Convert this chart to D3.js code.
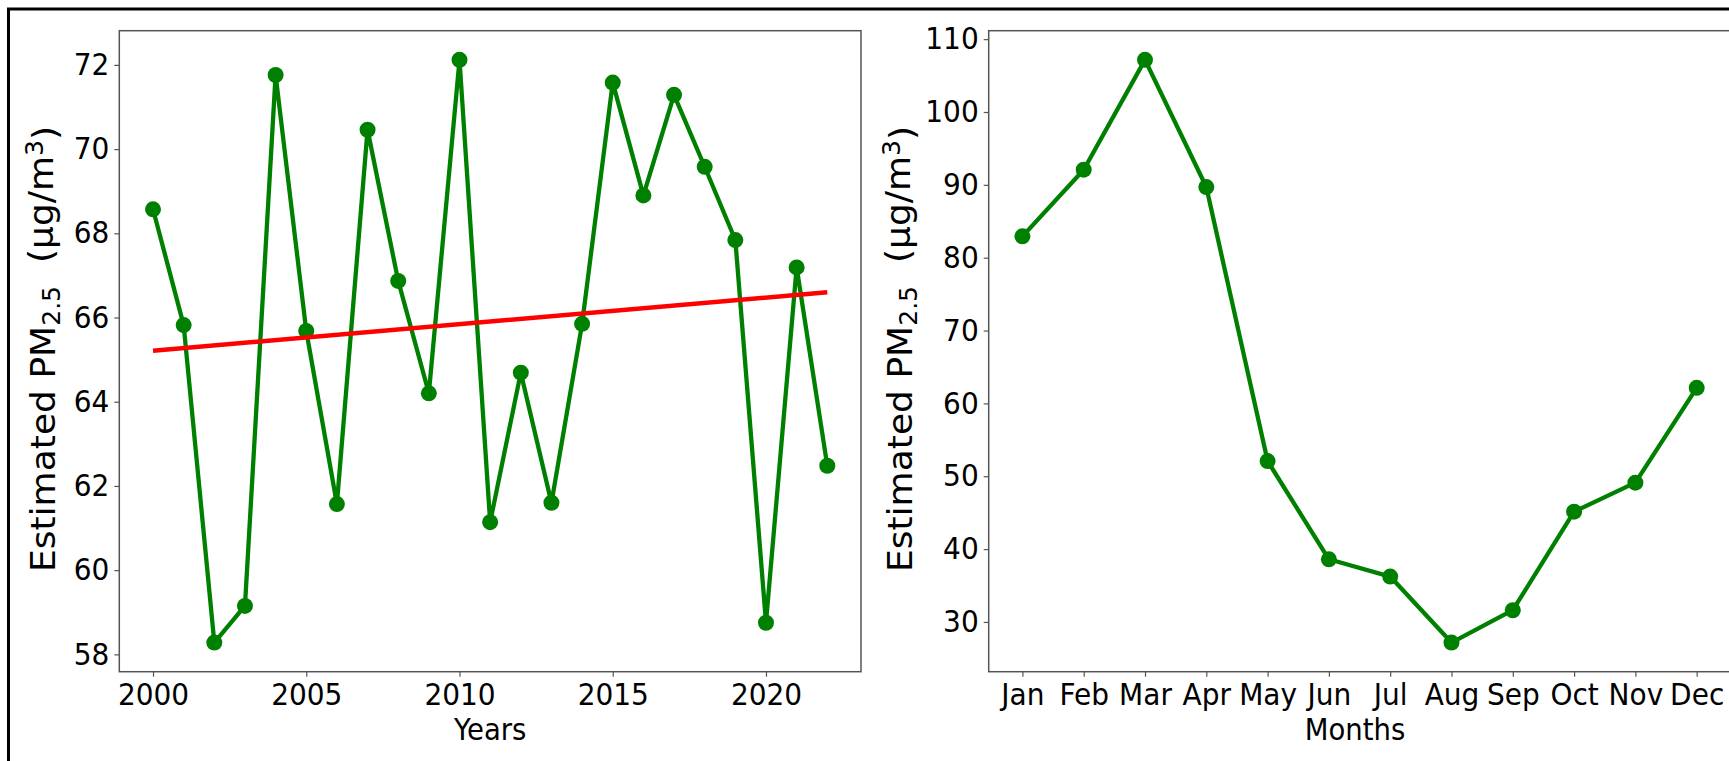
<!DOCTYPE html>
<html>
<head>
<meta charset="utf-8">
<script src="https://cdn.jsdelivr.net/npm/d3@7"></script>
<style>
  html, body { margin: 0; padding: 0; background: #fff; }
  svg { display: block; }
  text { font-family: "DejaVu Sans", sans-serif; fill: #000; }
</style>
</head>
<body>
<svg id="chart" width="1729" height="761"></svg>
<script>
// ---- data ----
const years = [2000, 2001, 2002, 2003, 2004, 2005, 2006, 2007, 2008, 2009, 2010, 2011,
               2012, 2013, 2014, 2015, 2016, 2017, 2018, 2019, 2020, 2021, 2022];
const annualPM = [68.57, 65.82, 58.28, 59.15, 71.76, 65.68, 61.57, 70.46, 66.87, 64.20, 72.12, 61.14,
                  64.69, 61.60, 65.85, 71.58, 68.90, 71.29, 69.58, 67.84, 58.75, 67.19, 62.48];
const trendYears = [2000, 2022];
const trendPM = [65.21, 66.60];
const months = ["Jan", "Feb", "Mar", "Apr", "May", "Jun", "Jul", "Aug", "Sep", "Oct", "Nov", "Dec"];
const monthlyPM = [82.93, 92.08, 107.16, 89.70, 52.08, 38.60, 36.23, 27.17, 31.61, 45.14, 49.12, 62.14];
const yearTicks = [2000, 2005, 2010, 2015, 2020];
const annualTicks = [58, 60, 62, 64, 66, 68, 70, 72];
const monthlyTicks = [30, 40, 50, 60, 70, 80, 90, 100, 110];

const svg = d3.select("#chart");
const GREEN = "#008000";
const FRAME = "#555";
const TICKFONT = 28;
const VSTRETCH = 1.08;

function padDomain(ext) {
  const m = (ext[1] - ext[0]) * 0.05;
  return [ext[0] - m, ext[1] + m];
}

// outer border
svg.append("rect").attr("x", 8.5).attr("y", 9).attr("width", 1800).attr("height", 800)
  .attr("fill", "none").attr("stroke", "#000").attr("stroke-width", 3);

function styleAxis(g) {
  g.select(".domain").remove();
  g.selectAll(".tick line").attr("stroke", FRAME).attr("stroke-width", 1.2);
  g.selectAll(".tick text").style("font-size", TICKFONT + "px").style("font-family", "DejaVu Sans")
    .attr("transform", `scale(1,${VSTRETCH})`);
}

function yLabel(x, y) {
  const t = svg.append("text")
    .attr("transform", `translate(${x},${y}) rotate(-90) scale(1.045,1)`)
    .attr("text-anchor", "middle")
    .style("font-size", "34.5px")
    .style("white-space", "pre");
  t.append("tspan").text("Estimated PM");
  t.append("tspan").attr("dy", "0.22em").style("font-size", "24px").text("2.5");
  t.append("tspan").attr("dy", "-0.22em").text("  (μg/m");
  t.append("tspan").attr("dy", "-0.42em").style("font-size", "24px").text("3");
  t.append("tspan").attr("dy", "0.42em").text(")");
}

function xLabel(x, baseline, label) {
  svg.append("text")
    .attr("transform", `translate(${x},${baseline}) scale(1,${VSTRETCH})`)
    .attr("text-anchor", "middle").style("font-size", "27.5px").text(label);
}

// ---------- left panel ----------
const L = { left: 119.3, right: 861, top: 30.7, bottom: 671.7 };
const xL = d3.scaleLinear().domain(padDomain(d3.extent(years))).range([L.left, L.right]);
const yL = d3.scaleLinear().domain(padDomain(d3.extent(annualPM))).range([L.bottom, L.top]);

svg.append("g").attr("transform", `translate(0,${L.bottom})`)
  .call(d3.axisBottom(xL).tickValues(yearTicks).tickFormat(d3.format("d")).tickSize(5).tickPadding(6))
  .call(styleAxis);
svg.append("g").attr("transform", `translate(${L.left},0)`)
  .call(d3.axisLeft(yL).tickValues(annualTicks).tickFormat(d3.format("d")).tickSize(5).tickPadding(5))
  .call(styleAxis);

const lineL = d3.line().x((d, i) => xL(years[i])).y(d => yL(d));
svg.append("path").datum(annualPM).attr("d", lineL)
  .attr("fill", "none").attr("stroke", GREEN).attr("stroke-width", 4.3).attr("stroke-linejoin", "round");
svg.append("g").selectAll("circle").data(annualPM).join("circle")
  .attr("cx", (d, i) => xL(years[i])).attr("cy", d => yL(d)).attr("r", 8).attr("fill", GREEN);

const trendLine = d3.line().x((d, i) => xL(trendYears[i])).y(d => yL(d));
svg.append("path").datum(trendPM).attr("d", trendLine)
  .attr("fill", "none").attr("stroke", "#ff0000").attr("stroke-width", 4.5);

svg.append("rect").attr("x", L.left).attr("y", L.top)
  .attr("width", L.right - L.left).attr("height", L.bottom - L.top)
  .attr("fill", "none").attr("stroke", FRAME).attr("stroke-width", 1.5);

xLabel((L.left + L.right) / 2, 740, "Years");
yLabel(55, 349);

// ---------- right panel ----------
const R = { left: 988.7, right: 1730.4, top: 30.7, bottom: 671.7 };
const xR = d3.scalePoint().domain(months).range([R.left, R.right]).padding(0.55);
const yR = d3.scaleLinear().domain(padDomain(d3.extent(monthlyPM))).range([R.bottom, R.top]);

svg.append("g").attr("transform", `translate(0,${R.bottom})`)
  .call(d3.axisBottom(xR).tickSize(5).tickPadding(6))
  .call(styleAxis);
svg.append("g").attr("transform", `translate(${R.left},0)`)
  .call(d3.axisLeft(yR).tickValues(monthlyTicks).tickFormat(d3.format("d")).tickSize(5).tickPadding(5))
  .call(styleAxis);

const lineR = d3.line().x((d, i) => xR(months[i])).y(d => yR(d));
svg.append("path").datum(monthlyPM).attr("d", lineR)
  .attr("fill", "none").attr("stroke", GREEN).attr("stroke-width", 4.3).attr("stroke-linejoin", "round");
svg.append("g").selectAll("circle").data(monthlyPM).join("circle")
  .attr("cx", (d, i) => xR(months[i])).attr("cy", d => yR(d)).attr("r", 8).attr("fill", GREEN);

svg.append("rect").attr("x", R.left).attr("y", R.top)
  .attr("width", R.right - R.left).attr("height", R.bottom - R.top)
  .attr("fill", "none").attr("stroke", FRAME).attr("stroke-width", 1.5);

xLabel(1355, 740, "Months");
yLabel(912, 349);
</script>
</body>
</html>
